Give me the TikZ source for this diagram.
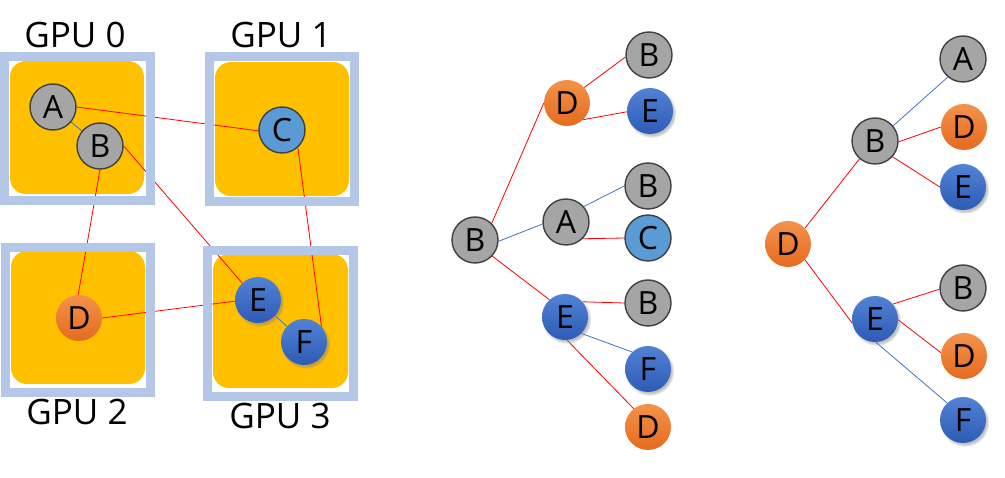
\documentclass[tikz,border=0pt]{standalone}
\usepackage{fontspec}
\setmainfont{Open Sans}
\usepackage{tikz}
\usetikzlibrary{shadows,fadings}

\definecolor{framecol}{HTML}{B4C7E7}
\definecolor{gpufill}{HTML}{FFC000}
\definecolor{nodegray}{HTML}{A5A5A5}
\definecolor{nodeedge}{HTML}{404040}
\definecolor{nodecyan}{HTML}{5B9BD5}
\definecolor{orangetop}{HTML}{F4924A}
\definecolor{orangebot}{HTML}{E56B1F}
\definecolor{bluetop}{HTML}{5282D4}
\definecolor{bluebot}{HTML}{2D5BB6}
\definecolor{linkblue}{HTML}{4472C4}

\pgfdeclarelayer{bg}
\pgfdeclarelayer{mid}
\pgfsetlayers{bg,mid,main}

\begin{document}
\begin{tikzpicture}[x=1pt, y=-1pt,
    vert/.style={circle, minimum size=46pt, inner sep=0pt, font=\fontsize{32}{38}\selectfont},
    grayv/.style={vert, fill=nodegray, draw=nodeedge, line width=1.4pt},
    cyanv/.style={vert, fill=nodecyan, draw=nodeedge, line width=1.4pt},
    orangev/.style={vert, top color=orangetop, bottom color=orangebot},
    bluev/.style={vert, top color=bluetop, bottom color=bluebot,
        circular drop shadow={shadow xshift=1.5pt, shadow yshift=-2pt, shadow scale=1.08, opacity=0.5}},
    redlink/.style={red, line width=0.8pt},
    bluelink/.style={linkblue, line width=0.8pt},
    gpu/.style={fill=gpufill, rounded corners=16pt},
    gpuframe/.style={draw=framecol, line width=9pt},
    gpulabel/.style={font=\fontsize{35}{42}\selectfont}]
    \useasboundingbox (0,0) rectangle (1005,478);

    % GPU boxes
    \begin{pgfonlayer}{bg}
        \fill[gpu] (10,61) rectangle (144,194);
        \fill[gpu] (215,62) rectangle (349,196);
        \fill[gpu] (11,251) rectangle (145,384);
        \fill[gpu] (213,254) rectangle (348,388);
    \end{pgfonlayer}
    \begin{pgfonlayer}{mid}
        \draw[gpuframe] (4.5,56.5) rectangle (150.5,200.5);
        \draw[gpuframe] (209.5,56.5) rectangle (354.5,201.5);
        \draw[gpuframe] (5.5,247.5) rectangle (150.5,392.5);
        \draw[gpuframe] (207.5,250.5) rectangle (353.5,396.5);
    \end{pgfonlayer}
    \node[gpulabel] (lab0) at (75,35) {GPU 0};
    \node[gpulabel] (lab1) at (281,35) {GPU 1};
    \node[gpulabel] (lab2) at (77,412) {GPU 2};
    \node[gpulabel] (lab3) at (280,416) {GPU 3};

    % Graph on the GPUs
    \node[grayv] (A) at (53,107) {A};
    \node[grayv] (B) at (100,146) {B};
    \node[cyanv] (C) at (282,130) {C};
    \node[orangev] (D) at (79,318) {D};
    \node[bluev] (E) at (258,300) {E};
    \node[bluev] (F) at (304,342) {F};
    \begin{pgfonlayer}{bg}
        \draw[bluelink] (A) -- (B);
        \draw[redlink] (A.0) -- (C.182);
        \draw[redlink] (B.-90) -- (D.92);
        \draw[redlink] (B.0) -- (E.133);
        \draw[redlink] (C.-48) -- (F.41);
        \draw[redlink] (D.0) -- (E.183);
        \draw[bluelink] (E) -- (F);
    \end{pgfonlayer}

    % Tree rooted at B
    \node[grayv] (rB) at (475,240) {B};
    \node[orangev] (rBD) at (567,103) {D};
    \node[grayv] (rBA) at (566,222) {A};
    \node[bluev] (rBE) at (565,317) {E};
    \node[grayv] (rBDB) at (649,55) {B};
    \node[bluev] (rBDE) at (650,111) {E};
    \node[grayv] (rBAB) at (648,186) {B};
    \node[cyanv] (rBAC) at (648,238) {C};
    \node[grayv] (rBEB) at (648,303) {B};
    \node[bluev] (rBEF) at (648,369) {F};
    \node[orangev] (rBED) at (648,427) {D};
    \begin{pgfonlayer}{bg}
        \draw[redlink] (rB.45) -- (rBD.180);
        \draw[bluelink] (rB.-3) -- (rBA.185);
        \draw[redlink] (rB.-43) -- (rBE.132);
        \draw[redlink] (rBD.42) -- (rBDB.185);
        \draw[redlink] (rBD.-46) -- (rBDE.182);
        \draw[bluelink] (rBA.41) -- (rBAB.180);
        \draw[redlink] (rBA.-45) -- (rBAC.180);
        \draw[redlink] (rBE.41) -- (rBEB.180);
        \draw[bluelink] (rBE.-45) -- (rBEF.133);
        \draw[redlink] (rBE.-85) -- (rBED.128);
    \end{pgfonlayer}

    % Tree rooted at D
    \node[orangev] (rD) at (788,244) {D};
    \node[grayv] (rDB) at (875,141) {B};
    \node[bluev] (rDE) at (875,319) {E};
    \node[grayv] (rDBA) at (963,59) {A};
    \node[orangev] (rDBD) at (964,127) {D};
    \node[bluev] (rDBE) at (963,187) {E};
    \node[grayv] (rDEB) at (963,288) {B};
    \node[orangev] (rDED) at (964,356) {D};
    \node[bluev] (rDEF) at (963,420) {F};
    \begin{pgfonlayer}{bg}
        \draw[redlink] (rD.43) -- (rDB.229);
        \draw[redlink] (rD.-43) -- (rDE.190);
        \draw[bluelink] (rDB.40) -- (rDBA.230);
        \draw[redlink] (rDB.-2) -- (rDBD.180);
        \draw[redlink] (rDB.-42) -- (rDBE.180);
        \draw[redlink] (rDE.40) -- (rDEB.183);
        \draw[redlink] (rDE.-2) -- (rDED.172);
        \draw[bluelink] (rDE.-88) -- (rDEF.133);
    \end{pgfonlayer}
\end{tikzpicture}
\end{document}
